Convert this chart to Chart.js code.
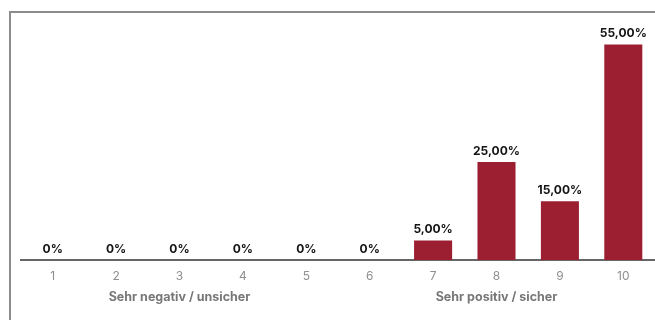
<!DOCTYPE html>
<html>
<head>
<meta charset="utf-8">
<script src="https://cdn.jsdelivr.net/npm/chart.js@4/dist/chart.umd.min.js"></script>
<style>
  html, body { margin: 0; padding: 0; background: #fff; }
  #wrap { width: 655px; height: 320px; position: relative; }
</style>
</head>
<body>
<div id="wrap"><canvas id="chart" width="655" height="320"></canvas></div>
<script>
    // Antwortverteilung auf der Skala 1-10 (Prozent)
    const categories = ['1', '2', '3', '4', '5', '6', '7', '8', '9', '10'];
    const shares = [0, 0, 0, 0, 0, 0, 5, 25, 15, 55];
    // Beschriftung der Skalenenden, unter der jeweiligen Kategorie
    const scaleEnds = [
        { category: '3', text: 'Sehr negativ / unsicher' },
        { category: '8', text: 'Sehr positiv / sicher' }
    ];

    const FONT = 'Inter, "DejaVu Sans", sans-serif';

    function fmtShare(v) {
        if (v === 0) return '0%';
        return v.toFixed(2).replace('.', ',') + '%';
    }

    // Rahmen oben und links
    const framePlugin = {
        id: 'frame',
        beforeDraw(chart) {
            const ctx = chart.ctx;
            ctx.save();
            ctx.strokeStyle = '#8c8c8c';
            ctx.lineWidth = 2;
            ctx.beginPath();
            ctx.moveTo(10, chart.height);
            ctx.lineTo(10, 12);
            ctx.lineTo(chart.width, 12);
            ctx.stroke();
            ctx.restore();
        }
    };

    // Werte über den Balken
    const valueLabels = {
        id: 'valueLabels',
        afterDatasetsDraw(chart) {
            const ctx = chart.ctx;
            const meta = chart.getDatasetMeta(0);
            ctx.save();
            ctx.font = 'bold 12px ' + FONT;
            ctx.fillStyle = '#141414';
            ctx.textAlign = 'center';
            ctx.textBaseline = 'bottom';
            meta.data.forEach((bar, i) => {
                ctx.fillText(fmtShare(shares[i]), bar.x, bar.y - 5);
            });
            ctx.restore();
        }
    };

    // Texte für die Skalenenden
    const endLabels = {
        id: 'endLabels',
        afterDraw(chart) {
            const ctx = chart.ctx;
            const x = chart.scales.x;
            ctx.save();
            ctx.font = 'bold 12.5px ' + FONT;
            ctx.fillStyle = '#777';
            ctx.textAlign = 'center';
            ctx.textBaseline = 'middle';
            scaleEnds.forEach(e => {
                const px = x.getPixelForValue(categories.indexOf(e.category));
                ctx.fillText(e.text, px, 297);
            });
            ctx.restore();
        }
    };

    new Chart(document.getElementById('chart'), {
        type: 'bar',
        data: {
            labels: categories,
            datasets: [{
                data: shares,
                backgroundColor: '#9c1f31',
                borderWidth: 0,
                categoryPercentage: 1,
                barPercentage: 0.6
            }]
        },
        options: {
            responsive: false,
            animation: false,
            layout: { padding: { top: 25, left: 21, right: 0, bottom: 0 } },
            plugins: {
                legend: { display: false },
                tooltip: { enabled: false }
            },
            scales: {
                x: {
                    grid: { display: false, drawTicks: false },
                    border: { display: true, color: '#666', width: 2 },
                    ticks: {
                        color: '#8f8f8f',
                        padding: 9,
                        font: { family: FONT, size: 12 }
                    },
                    afterFit(scale) { scale.height = 60; }
                },
                y: {
                    display: false,
                    min: 0,
                    max: 60
                }
            }
        },
        plugins: [framePlugin, valueLabels, endLabels]
    });
</script>
</body>
</html>
